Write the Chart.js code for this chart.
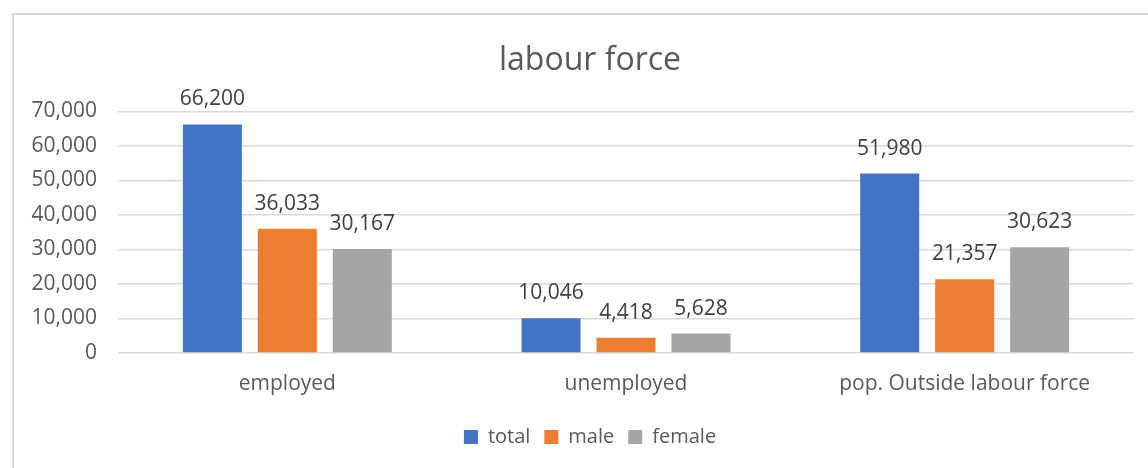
<!DOCTYPE html>
<html>
<head>
<meta charset="utf-8">
<title>labour force</title>
<script src="https://cdn.jsdelivr.net/npm/chart.js"></script>
<style>
  html, body { margin: 0; padding: 0; background: #fff; }
  #wrap { position: relative; width: 1148px; height: 468px; overflow: hidden; }
  #frame { position: absolute; left: 12px; top: 13px; width: 1200px; height: 500px; border: 2px solid #d9d9d9; box-sizing: border-box; }
  canvas { position: absolute; left: 0; top: 0; }
</style>
</head>
<body>
<div id="wrap">
  <div id="frame"></div>
  <canvas id="myChart" width="1148" height="468"></canvas>
</div>
<script>
// categories and series
const categories = ["employed", "unemployed", "pop. Outside labour force"];
const totalValues = [66200, 10046, 51980];
const maleValues = [36033, 4418, 21357];
const femaleValues = [30167, 5628, 30623];

const fontFamily = "'Open Sans', sans-serif";

// draws the value above each bar
const valueLabels = {
  id: "valueLabels",
  afterDatasetsDraw(chart) {
    const ctx = chart.ctx;
    ctx.save();
    ctx.font = "21px " + fontFamily;
    ctx.fillStyle = "#404040";
    ctx.textAlign = "center";
    ctx.textBaseline = "middle";
    chart.data.datasets.forEach((ds, i) => {
      chart.getDatasetMeta(i).data.forEach((bar, j) => {
        ctx.fillText(ds.data[j].toLocaleString("en-US"), bar.x, bar.y - 25);
      });
    });
    ctx.restore();
  },
};

// title and legend are centred on the frame, not on the canvas
const centreOnFrame = {
  id: "centreOnFrame",
  afterLayout(chart) {
    chart.titleBlock.left += 46;
    chart.legend.left += 46;
  },
};

const ctx = document.getElementById("myChart").getContext("2d");
new Chart(ctx, {
  type: "bar",
  data: {
    labels: categories,
    datasets: [
      { label: "total", data: totalValues, backgroundColor: "#4472C4" },
      { label: "male", data: maleValues, backgroundColor: "#ED7D31" },
      { label: "female", data: femaleValues, backgroundColor: "#A5A5A5" },
    ],
  },
  options: {
    responsive: false,
    animation: false,
    datasets: { bar: { categoryPercentage: 0.664, barPercentage: 0.787 } },
    layout: { padding: { left: 0, right: 14, top: 0, bottom: 11 } },
    plugins: {
      title: {
        display: true,
        text: "labour force",
        color: "#595959",
        font: { family: fontFamily, size: 32, weight: "normal" },
        padding: { top: 42, bottom: 31 },
      },
      legend: {
        position: "bottom",
        labels: {
          color: "#595959",
          font: { family: fontFamily, size: 20 },
          boxWidth: 14,
          boxHeight: 14,
          padding: 14,
        },
      },
      tooltip: { enabled: false },
    },
    scales: {
      x: {
        grid: { display: false },
        border: { display: false },
        ticks: { color: "#595959", font: { family: fontFamily, size: 21 }, padding: 10 },
        afterFit(scale) { scale.height = 60; },
      },
      y: {
        min: 0,
        max: 70000,
        grid: { color: "#d9d9d9", lineWidth: 1.5, drawTicks: false },
        border: { display: false },
        ticks: {
          stepSize: 10000,
          color: "#595959",
          font: { family: fontFamily, size: 21 },
          padding: 21,
          callback: (v) => v.toLocaleString("en-US"),
        },
        afterFit(scale) { scale.width = 118; },
      },
    },
  },
  plugins: [valueLabels, centreOnFrame],
});
</script>
</body>
</html>
